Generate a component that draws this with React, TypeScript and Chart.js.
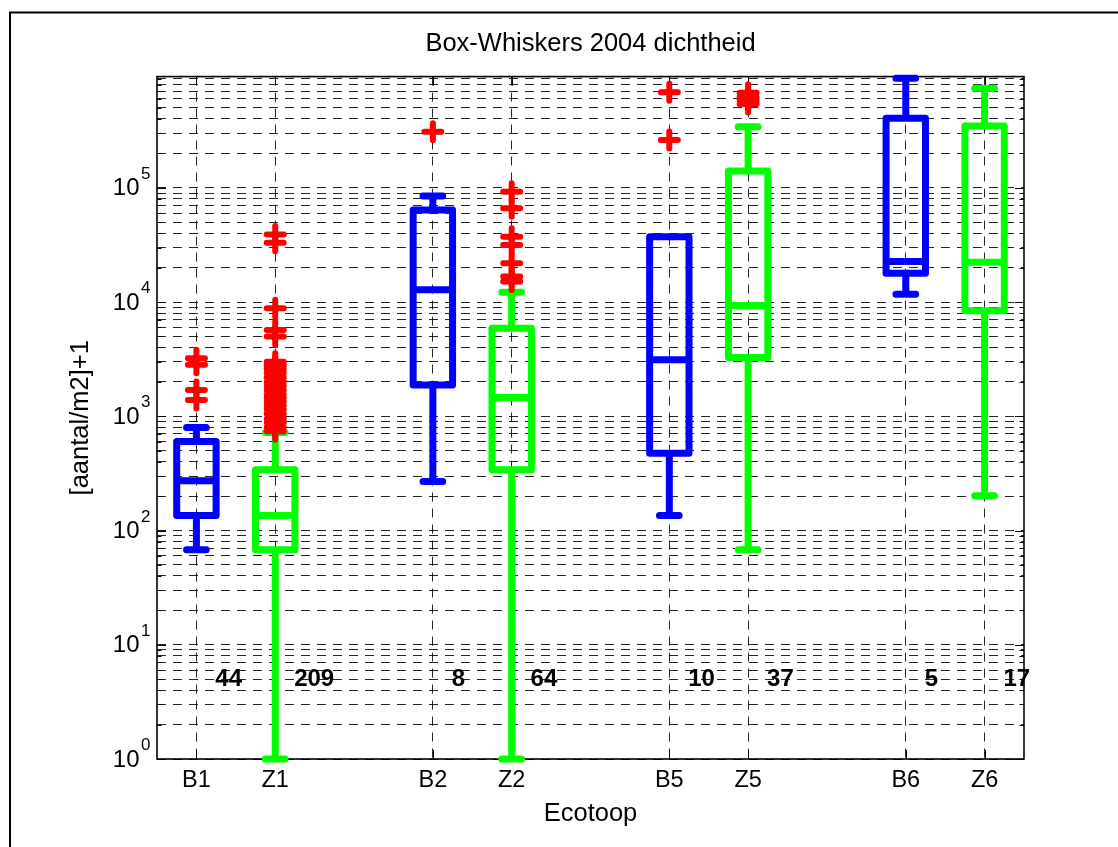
import React, { useEffect, useRef } from 'react';
import { Chart, registerables } from 'chart.js';

Chart.register(...registerables);

// ---- data ----
const categories = ['B1', 'Z1', 'B2', 'Z2', 'B5', 'Z5', 'B6', 'Z6'];
const positions = [1, 2, 4, 5, 7, 8, 10, 11];
const groups = ['B', 'Z', 'B', 'Z', 'B', 'Z', 'B', 'Z'];
const whiskerLow = [68, 1, 268, 1, 135, 68, 11700, 202];
const q1 = [135, 68, 1880, 340, 475, 3270, 17900, 8400];
const median = [272, 135, 12800, 1460, 3120, 9300, 22600, 22300];
const q3 = [600, 340, 64000, 5900, 37300, 140000, 406000, 347000];
const whiskerHigh = [796, 720, 84800, 12200, 37300, 342000, 910000, 743000];
const counts = [44, 209, 8, 64, 10, 37, 5, 17];
const outliersB1 = [3220, 2820, 1700, 1390];
const outliersZ1 = [39000, 33000, 8800, 5700, 5000, 3000, 2800, 2600, 2400, 2200, 2000, 1850, 1700, 1550, 1450, 1350, 1250, 1150, 1050, 950, 880, 800, 740];
const outliersB2 = [310000];
const outliersZ2 = [92500, 66200, 37300, 31600, 21900, 16700, 15100];
const outliersB5 = [684000, 262000];
const outliersZ5 = [680000, 620000, 580000, 540000];
const outliersB6: number[] = [];
const outliersZ6: number[] = [];
const outliers = [outliersB1, outliersZ1, outliersB2, outliersZ2, outliersB5, outliersZ5, outliersB6, outliersZ6];

const yDecades = [0, 1, 2, 3, 4, 5];
const yMinorSteps = [1, 2, 3, 4, 5, 6, 7, 8, 9];
const yMin = 1;
const yMax = 940000;
const xMin = 0.5;
const xMax = 11.5;
const countY = 5;

const titleText = 'Box-Whiskers 2004 dichtheid';
const xTitle = 'Ecotoop';
const yTitle = '[aantal/m2]+1';

// ---- styles ----
const FONT = "'Liberation Sans', Arial, Helvetica, sans-serif";
const BOX_HALF = 0.25;
const CAP_HALF = 0.125;
const COUNT_OFFSET = 0.24;
const groupColor: Record<string, string> = { B: '#0000ff', Z: '#00ff00' };

function buildSegments(group: string) {
  const pts: { x: number; y: number | null }[] = [];
  positions.forEach((x, i) => {
    if (groups[i] !== group) return;
    const l = x - BOX_HALF;
    const r = x + BOX_HALF;
    const cl = x - CAP_HALF;
    const cr = x + CAP_HALF;
    const gap = { x, y: null };
    pts.push({ x: l, y: q1[i] }, { x: l, y: q3[i] }, { x: r, y: q3[i] }, { x: r, y: q1[i] }, { x: l, y: q1[i] }, gap);
    pts.push({ x: l, y: median[i] }, { x: r, y: median[i] }, gap);
    pts.push({ x, y: q3[i] }, { x, y: whiskerHigh[i] }, gap);
    pts.push({ x, y: q1[i] }, { x, y: whiskerLow[i] }, gap);
    pts.push({ x: cl, y: whiskerHigh[i] }, { x: cr, y: whiskerHigh[i] }, gap);
    pts.push({ x: cl, y: whiskerLow[i] }, { x: cr, y: whiskerLow[i] }, gap);
  });
  return pts;
}

const yTickValues: number[] = [];
yDecades.forEach((e) => {
  yMinorSteps.forEach((m) => {
    const v = m * Math.pow(10, e);
    if (v >= yMin && v <= yMax) yTickValues.push(v);
  });
});

const isPow10 = (v: number) => yDecades.some((e) => Math.abs(v - Math.pow(10, e)) < 1e-9 * v);

const decorPlugin = {
  id: 'decor',
  beforeDatasetsDraw(chart: any) {
    const { ctx, chartArea: a, scales } = chart;
    const x = scales.x;
    const y = scales.y;
    ctx.save();
    ctx.strokeStyle = '#000';
    ctx.lineWidth = 1;
    ctx.setLineDash([]);
    ctx.beginPath();
    yTickValues.forEach((v) => {
      const py = Math.round(y.getPixelForValue(v)) + 0.5;
      const len = isPow10(v) ? 9 : 4.5;
      ctx.moveTo(a.left, py);
      ctx.lineTo(a.left + len, py);
      ctx.moveTo(a.right, py);
      ctx.lineTo(a.right - len, py);
    });
    positions.forEach((p) => {
      const px = Math.round(x.getPixelForValue(p)) + 0.5;
      ctx.moveTo(px, a.bottom);
      ctx.lineTo(px, a.bottom - 9);
      ctx.moveTo(px, a.top);
      ctx.lineTo(px, a.top + 9);
    });
    ctx.stroke();
    ctx.lineWidth = 1.6;
    ctx.strokeRect(a.left, a.top, a.right - a.left, a.bottom - a.top);
    ctx.restore();
  },
  beforeDatasetDraw(chart: any, args: any) {
    if (args.index === 0) chart.ctx.lineCap = 'round';
  },
  afterDatasetDraw(chart: any, args: any) {
    if (args.index === 0) chart.ctx.lineCap = 'butt';
  },
  afterDraw(chart: any) {
    const { ctx, chartArea: a, scales } = chart;
    const x = scales.x;
    const y = scales.y;
    ctx.save();
    ctx.fillStyle = '#000';
    // y tick labels 10^n
    yDecades.forEach((e) => {
      const py = y.getPixelForValue(Math.pow(10, e));
      ctx.font = `24px ${FONT}`;
      ctx.textAlign = 'right';
      ctx.textBaseline = 'alphabetic';
      ctx.fillText('10', a.left - 17.5, py + 7.5);
      ctx.font = `17px ${FONT}`;
      ctx.textAlign = 'left';
      ctx.fillText(String(e), a.left - 16, py - 9);
    });
    // counts
    ctx.font = `bold 24px ${FONT}`;
    ctx.textAlign = 'left';
    ctx.textBaseline = 'middle';
    counts.forEach((c, i) => {
      ctx.fillText(String(c), x.getPixelForValue(positions[i] + COUNT_OFFSET), y.getPixelForValue(countY));
    });
    // outer figure frame
    ctx.strokeStyle = '#000';
    ctx.lineWidth = 2;
    ctx.strokeRect(10, 12.5, 1400, 1200);
    ctx.restore();
  },
};

export default function App() {
  const ref = useRef<HTMLCanvasElement | null>(null);

  useEffect(() => {
    document.body.style.margin = '0';
    document.body.style.overflow = 'hidden';
    const canvas = ref.current;
    if (!canvas) return;

    const outlierData = outliers.flatMap((vals, i) => vals.map((v) => ({ x: positions[i], y: v })));

    const chart = new Chart(canvas, {
      type: 'line',
      data: {
        datasets: [
          {
            label: 'outliers',
            data: outlierData,
            showLine: false,
            pointStyle: 'cross',
            pointRadius: 8.5,
            pointHoverRadius: 8.5,
            pointBorderWidth: 6,
            pointBorderColor: '#ff0000',
            pointBackgroundColor: '#ff0000',
            clip: false,
          } as any,
          {
            label: 'Z',
            data: buildSegments('Z'),
            borderColor: groupColor.Z,
            borderWidth: 7,
            borderJoinStyle: 'round',
            borderCapStyle: 'round',
            pointRadius: 0,
            tension: 0,
            spanGaps: false,
            clip: false,
          } as any,
          {
            label: 'B',
            data: buildSegments('B'),
            borderColor: groupColor.B,
            borderWidth: 7,
            borderJoinStyle: 'round',
            borderCapStyle: 'round',
            pointRadius: 0,
            tension: 0,
            spanGaps: false,
            clip: false,
          } as any,
        ],
      },
      options: {
        animation: false,
        responsive: false,
        devicePixelRatio: 1,
        events: [],
        layout: { padding: { left: 0, right: 94, top: 0, bottom: 0 } },
        plugins: {
          legend: { display: false },
          tooltip: { enabled: false },
          title: {
            display: true,
            text: titleText,
            color: '#000',
            fullSize: false,
            font: { family: FONT, size: 25.5, weight: 'normal' },
            padding: { top: 29, bottom: 17 },
          },
        },
        scales: {
          x: {
            type: 'linear',
            min: xMin,
            max: xMax,
            afterBuildTicks: (scale: any) => {
              scale.ticks = positions.map((p) => ({ value: p }));
            },
            afterFit: (scale: any) => {
              scale.height = 88;
            },
            ticks: {
              autoSkip: false,
              maxRotation: 0,
              padding: 7.6,
              color: '#000',
              font: { family: FONT, size: 23.5 },
              callback: (value: any) => {
                const idx = positions.indexOf(Number(value));
                return idx >= 0 ? categories[idx] : '';
              },
            },
            grid: {
              color: 'rgba(0,0,0,0.85)',
              lineWidth: 1,
              drawTicks: false,
              tickLength: 0,
            },
            border: { display: false, dash: [9, 7] },
            title: {
              display: true,
              text: xTitle,
              color: '#000',
              font: { family: FONT, size: 25.5 },
              padding: { top: 0, bottom: 18 },
            },
          },
          y: {
            type: 'logarithmic',
            min: yMin,
            max: yMax,
            afterBuildTicks: (scale: any) => {
              scale.ticks = yTickValues.map((v) => ({ value: v, major: isPow10(v) }));
            },
            afterFit: (scale: any) => {
              scale.width = 157;
            },
            ticks: { display: false },
            grid: {
              color: 'rgba(0,0,0,0.85)',
              lineWidth: 1,
              drawTicks: false,
              tickLength: 0,
            },
            border: { display: false, dash: [9, 7] },
            title: {
              display: true,
              text: yTitle,
              color: '#000',
              font: { family: FONT, size: 25.5 },
              padding: { top: 66, bottom: 0 },
            },
          },
        },
      } as any,
      plugins: [decorPlugin as any],
    });

    return () => {
      chart.destroy();
    };
  }, []);

  return (
    <div style={{ width: 1118, height: 847, position: 'relative', overflow: 'hidden', background: '#fff' }}>
      <canvas ref={ref} width={1118} height={847} style={{ display: 'block' }} />
    </div>
  );
}
